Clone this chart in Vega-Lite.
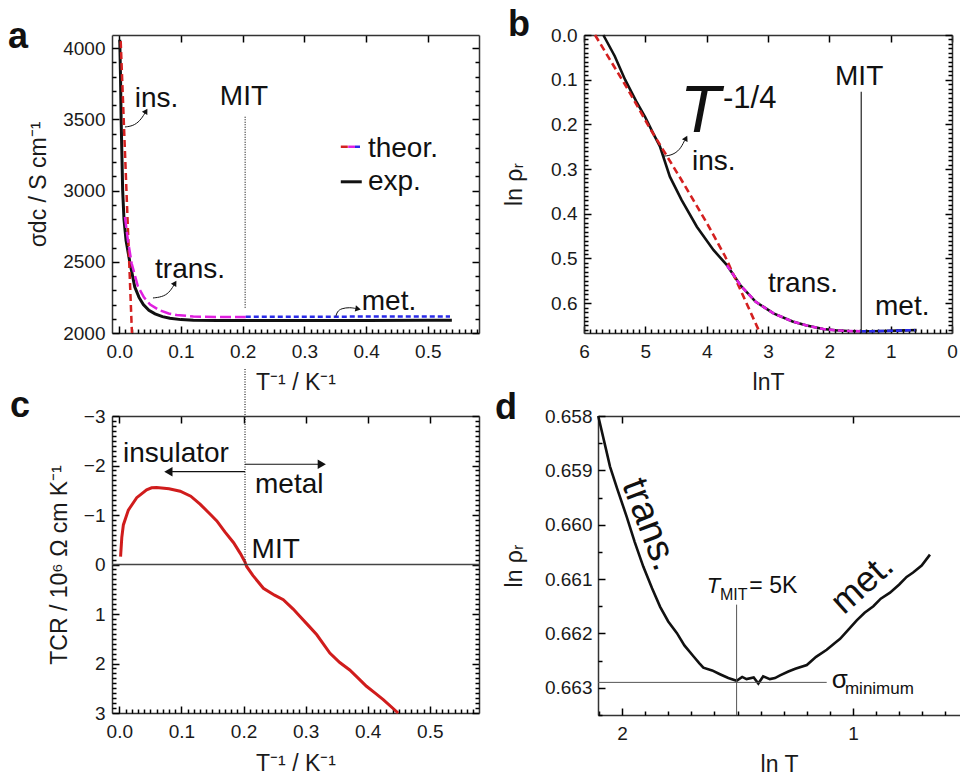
{
  "$schema": "https://vega.github.io/schema/vega-lite/v6.json",
  "autosize": {"type": "none"},
  "padding": {"left": 112, "top": 35, "right": 848, "bottom": 741},
  "background": "white",
  "config": {
    "font": "Liberation Sans",
    "view": {"stroke": null},
    "axis": {"labelFont": "Liberation Sans", "labelFontSize": 19, "labelColor": "#1a1a1a", "titleFont": "Liberation Sans", "titleFontSize": 23, "titleFontWeight": "normal", "titleColor": "#1a1a1a", "domainColor": "#333", "domainWidth": 1.5, "tickColor": "#000", "tickWidth": 1.5, "tickOpacity": 1, "grid": false, "labelFlush": false, "labelOverlap": false},
    "text": {"font": "Liberation Sans", "color": "#111"}
  },
  "columns": 2,
  "align": "each",
  "bounds": "flush",
  "spacing": {"row": 83, "column": 105},
  "concat": [
    {
      "width": 367, "height": 298,
      "data": {"values": [
        {"s":"exp","g":"exp","x":0.0008,"y":4060},{"s":"exp","g":"exp","x":0.002,"y":3800},{"s":"exp","g":"exp","x":0.003,"y":3500},{"s":"exp","g":"exp","x":0.0045,"y":3200},{"s":"exp","g":"exp","x":0.0055,"y":3000},{"s":"exp","g":"exp","x":0.0076,"y":2800},{"s":"exp","g":"exp","x":0.011,"y":2650},{"s":"exp","g":"exp","x":0.017,"y":2500},{"s":"exp","g":"exp","x":0.025,"y":2325},{"s":"exp","g":"exp","x":0.032,"y":2250},{"s":"exp","g":"exp","x":0.039,"y":2200},{"s":"exp","g":"exp","x":0.048,"y":2160},{"s":"exp","g":"exp","x":0.058,"y":2135},{"s":"exp","g":"exp","x":0.07,"y":2115},{"s":"exp","g":"exp","x":0.082,"y":2103},{"s":"exp","g":"exp","x":0.1,"y":2094},{"s":"exp","g":"exp","x":0.12,"y":2089},{"s":"exp","g":"exp","x":0.16,"y":2087},{"s":"exp","g":"exp","x":0.2,"y":2087},{"s":"exp","g":"exp","x":0.3,"y":2087},{"s":"exp","g":"exp","x":0.4,"y":2088},{"s":"exp","g":"exp","x":0.5,"y":2089},{"s":"exp","g":"exp","x":0.539,"y":2089},
        {"s":"exp","g":"legexp","x":0.359,"y":3062},{"s":"exp","g":"legexp","x":0.393,"y":3062},
        {"s":"ins","g":"ins","x":0.0023,"y":4050},{"s":"ins","g":"ins","x":0.0205,"y":2000},
        {"s":"ins","g":"legins","x":0.359,"y":3308},{"s":"ins","g":"legins","x":0.371,"y":3308},
        {"s":"trans","g":"trans","x":0.0092,"y":2815},{"s":"trans","g":"trans","x":0.014,"y":2650},{"s":"trans","g":"trans","x":0.02,"y":2490},{"s":"trans","g":"trans","x":0.03,"y":2330},{"s":"trans","g":"trans","x":0.04,"y":2250},{"s":"trans","g":"trans","x":0.05,"y":2200},{"s":"trans","g":"trans","x":0.065,"y":2160},{"s":"trans","g":"trans","x":0.08,"y":2137},{"s":"trans","g":"trans","x":0.093,"y":2126},{"s":"trans","g":"trans","x":0.12,"y":2116},{"s":"trans","g":"trans","x":0.16,"y":2112},{"s":"trans","g":"trans","x":0.205,"y":2112},
        {"s":"trans","g":"legtrans","x":0.371,"y":3308},{"s":"trans","g":"legtrans","x":0.382,"y":3308},
        {"s":"met","g":"met","x":0.205,"y":2114},{"s":"met","g":"met","x":0.536,"y":2116},
        {"s":"met","g":"legmet","x":0.382,"y":3308},{"s":"met","g":"legmet","x":0.393,"y":3308},
        {"s":"mit","x":0.204,"y":3519,"y2":2173},
        {"s":"arr","g":"a1","x":0.0092,"y":3447},{"s":"arr","g":"a1","x":0.0222,"y":3454},{"s":"arr","g":"a1","x":0.0335,"y":3489},{"s":"arr","g":"a1","x":0.0417,"y":3545},
        {"s":"arr","g":"a2","x":0.0546,"y":2246},{"s":"arr","g":"a2","x":0.0692,"y":2253},{"s":"arr","g":"a2","x":0.0806,"y":2281},{"s":"arr","g":"a2","x":0.0887,"y":2337},
        {"s":"arr","g":"a3","x":0.351,"y":2116},{"s":"arr","g":"a3","x":0.353,"y":2150},{"s":"arr","g":"a3","x":0.36,"y":2173},{"s":"arr","g":"a3","x":0.374,"y":2180},{"s":"arr","g":"a3","x":0.383,"y":2172},
        {"s":"tip","x":0.0433,"y":3559},{"s":"tip","x":0.0903,"y":2351},
        {"s":"tipr","x":0.387,"y":2169},
        {"s":"txt","t":"ins.","x":0.025,"y":3587},{"s":"txt","t":"MIT","x":0.163,"y":3601},{"s":"txt","t":"trans.","x":0.058,"y":2386},{"s":"txt","t":"met.","x":0.393,"y":2161},{"s":"txt","t":"theor.","x":0.403,"y":3236},{"s":"txt","t":"exp.","x":0.403,"y":3004},
        {"s":"let","t":"a","x":-0.1804,"y":4001}
      ]},
      "resolve": {"axis": {"x": "independent", "y": "independent"}},
      "layer": [
        {"transform": [{"filter": "datum.s === 'exp'"}], "mark": {"type": "line", "color": "#111", "strokeWidth": 3},
         "encoding": {
           "x": {"field": "x", "type": "quantitative", "scale": {"domain": [-0.0118, 0.583], "nice": false, "zero": false},
                 "axis": {"orient": "bottom", "values": [0, 0.1, 0.2, 0.3, 0.4, 0.5], "format": ".1f", "ticks": false, "labelPadding": 9, "title": "T⁻¹ / K⁻¹", "titlePadding": 10}},
           "y": {"field": "y", "type": "quantitative", "scale": {"domain": [2000, 4093], "nice": false, "zero": false},
                 "axis": {"orient": "left", "values": [2000, 2500, 3000, 3500, 4000], "format": "d", "ticks": false, "labelPadding": 7, "title": "σdc / S cm⁻¹", "titlePadding": 12}},
           "detail": {"field": "g"}}},
        {"transform": [{"filter": "datum.s === 'ins'"}], "mark": {"type": "line", "color": "#d42020", "strokeWidth": 2.5, "strokeDash": [7, 4]},
         "encoding": {
           "x": {"field": "x", "type": "quantitative", "axis": {"orient": "top", "offset": -298, "values": [0, 0.1, 0.2, 0.3, 0.4, 0.5], "labels": false, "domain": false, "ticks": true, "tickSize": 7, "title": null}},
           "y": {"field": "y", "type": "quantitative", "axis": {"orient": "right", "offset": -367, "values": [2000, 2500, 3000, 3500, 4000], "labels": false, "domain": false, "ticks": true, "tickSize": 7, "title": null}},
           "detail": {"field": "g"}}},
        {"transform": [{"filter": "datum.s === 'trans'"}], "mark": {"type": "line", "color": "#e020e0", "strokeWidth": 2.5, "strokeDash": [11, 4]},
         "encoding": {
           "x": {"field": "x", "type": "quantitative", "axis": {"orient": "top", "offset": -298, "values": [0.01,0.02,0.03,0.04,0.05,0.06,0.07,0.08,0.09,0.11,0.12,0.13,0.14,0.15,0.16,0.17,0.18,0.19,0.21,0.22,0.23,0.24,0.25,0.26,0.27,0.28,0.29,0.31,0.32,0.33,0.34,0.35,0.36,0.37,0.38,0.39,0.41,0.42,0.43,0.44,0.45,0.46,0.47,0.48,0.49,0.51,0.52,0.53,0.54,0.55,0.56,0.57,0.58], "labels": false, "domain": false, "ticks": true, "tickSize": 4, "title": null}},
           "y": {"field": "y", "type": "quantitative", "axis": {"orient": "right", "offset": -367, "values": [2100,2200,2300,2400,2600,2700,2800,2900,3100,3200,3300,3400,3600,3700,3800,3900], "labels": false, "domain": false, "ticks": true, "tickSize": 4, "title": null}},
           "detail": {"field": "g"}}},
        {"transform": [{"filter": "datum.s === 'met'"}], "mark": {"type": "line", "color": "#2a2ae8", "strokeWidth": 2.5, "strokeDash": [5, 3]},
         "encoding": {
           "x": {"field": "x", "type": "quantitative", "axis": {"orient": "bottom", "offset": -298, "values": [0, 0.1, 0.2, 0.3, 0.4, 0.5], "labels": false, "domain": true, "ticks": true, "tickSize": 7, "title": null}},
           "y": {"field": "y", "type": "quantitative", "axis": {"orient": "left", "offset": -367, "values": [2000, 2500, 3000, 3500, 4000], "labels": false, "domain": true, "ticks": true, "tickSize": 7, "title": null}},
           "detail": {"field": "g"}}},
        {"transform": [{"filter": "datum.s === 'mit'"}], "mark": {"type": "rule", "color": "#222", "strokeWidth": 1.2, "strokeDash": [1, 1.5]},
         "encoding": {"x": {"field": "x", "type": "quantitative", "axis": null},
           "y": {"field": "y", "type": "quantitative", "axis": {"orient": "left", "offset": -367, "values": [2100,2200,2300,2400,2600,2700,2800,2900,3100,3200,3300,3400,3600,3700,3800,3900], "labels": false, "domain": false, "ticks": true, "tickSize": 4, "title": null}},
           "y2": {"field": "y2"}}},
        {"transform": [{"filter": "datum.s === 'arr'"}], "mark": {"type": "line", "color": "#111", "strokeWidth": 1, "interpolate": "basis"},
         "encoding": {"x": {"field": "x", "type": "quantitative", "axis": null}, "y": {"field": "y", "type": "quantitative", "axis": null}, "detail": {"field": "g"}}},
        {"transform": [{"filter": "datum.s === 'tip'"}], "mark": {"type": "point", "shape": "triangle-up", "angle": 31, "filled": true, "size": 40, "color": "#111", "opacity": 1},
         "encoding": {"x": {"field": "x", "type": "quantitative", "axis": null}, "y": {"field": "y", "type": "quantitative", "axis": null}}},
        {"transform": [{"filter": "datum.s === 'tipr'"}], "mark": {"type": "point", "shape": "triangle-right", "angle": 10, "filled": true, "size": 40, "color": "#111", "opacity": 1},
         "encoding": {"x": {"field": "x", "type": "quantitative", "axis": null}, "y": {"field": "y", "type": "quantitative", "axis": null}}},
        {"transform": [{"filter": "datum.s === 'txt'"}], "mark": {"type": "text", "align": "left", "baseline": "alphabetic", "fontSize": 28},
         "encoding": {"x": {"field": "x", "type": "quantitative", "axis": null}, "y": {"field": "y", "type": "quantitative", "axis": null}, "text": {"field": "t"}}},
        {"transform": [{"filter": "datum.s === 'let'"}], "mark": {"type": "text", "align": "left", "baseline": "alphabetic", "fontSize": 36, "fontWeight": "bold"},
         "encoding": {"x": {"field": "x", "type": "quantitative", "axis": null}, "y": {"field": "y", "type": "quantitative", "axis": null}, "text": {"field": "t"}}}
      ]
    },
    {
      "width": 368, "height": 298,
      "data": {"values": [
        {"s":"exp","x":5.685,"y":0},{"s":"exp","x":5.5,"y":0.047},{"s":"exp","x":5.33,"y":0.1},{"s":"exp","x":5.15,"y":0.148},{"s":"exp","x":5.005,"y":0.183},{"s":"exp","x":4.88,"y":0.218},{"s":"exp","x":4.76,"y":0.25},{"s":"exp","x":4.6,"y":0.317},{"s":"exp","x":4.41,"y":0.369},{"s":"exp","x":4.16,"y":0.429},{"s":"exp","x":3.89,"y":0.481},{"s":"exp","x":3.67,"y":0.515},{"s":"exp","x":3.45,"y":0.56},{"s":"exp","x":3.2,"y":0.597},{"s":"exp","x":2.91,"y":0.623},{"s":"exp","x":2.6,"y":0.641},{"s":"exp","x":2.37,"y":0.65},{"s":"exp","x":2.1,"y":0.658},{"s":"exp","x":1.9,"y":0.6607},{"s":"exp","x":1.7,"y":0.6624},{"s":"exp","x":1.5,"y":0.66285},{"s":"exp","x":1.3,"y":0.6628},{"s":"exp","x":1.1,"y":0.6623},{"s":"exp","x":0.9,"y":0.6615},{"s":"exp","x":0.7,"y":0.6608},{"s":"exp","x":0.577,"y":0.6603},
        {"s":"ins","x":5.82,"y":0},{"s":"ins","x":5.3,"y":0.118},{"s":"ins","x":4.92,"y":0.21},{"s":"ins","x":4.43,"y":0.32},{"s":"ins","x":4.0,"y":0.42},{"s":"ins","x":3.7,"y":0.495},{"s":"ins","x":3.45,"y":0.57},{"s":"ins","x":3.13,"y":0.667},
        {"s":"trans","x":3.67,"y":0.515},{"s":"trans","x":3.45,"y":0.56},{"s":"trans","x":3.2,"y":0.597},{"s":"trans","x":2.91,"y":0.623},{"s":"trans","x":2.6,"y":0.641},{"s":"trans","x":2.37,"y":0.65},{"s":"trans","x":2.1,"y":0.658},{"s":"trans","x":1.9,"y":0.6607},{"s":"trans","x":1.7,"y":0.6624},{"s":"trans","x":1.5,"y":0.66285},
        {"s":"met","x":1.5,"y":0.66285},{"s":"met","x":1.3,"y":0.6628},{"s":"met","x":1.1,"y":0.6623},{"s":"met","x":0.9,"y":0.6615},{"s":"met","x":0.7,"y":0.6608},{"s":"met","x":0.6,"y":0.6604},
        {"s":"mit","x":1.48,"y":0.127,"y2":0.6668},
        {"s":"arr","x":4.696,"y":0.271},{"s":"arr","x":4.565,"y":0.269},{"s":"arr","x":4.435,"y":0.257},{"s":"arr","x":4.36,"y":0.236},
        {"s":"tip","x":4.337,"y":0.231},
        {"s":"txt","t":"MIT","x":1.907,"y":0.112},{"s":"txt","t":"ins.","x":4.24,"y":0.302},{"s":"txt","t":"trans.","x":3.0,"y":0.575},{"s":"txt","t":"met.","x":1.255,"y":0.627},
        {"s":"bigT","t":"T","x":4.435,"y":0.2165},
        {"s":"sup","t":"-1/4","x":3.733,"y":0.163},
        {"s":"let","t":"b","x":7.239,"y":0.0022}
      ]},
      "resolve": {"axis": {"x": "independent", "y": "independent"}},
      "layer": [
        {"transform": [{"filter": "datum.s === 'exp'"}], "mark": {"type": "line", "color": "#111", "strokeWidth": 2.6},
         "encoding": {
           "x": {"field": "x", "type": "quantitative", "scale": {"domain": [6, 0], "nice": false, "zero": false},
                 "axis": {"orient": "bottom", "values": [6, 5, 4, 3, 2, 1, 0], "format": "d", "ticks": false, "labelPadding": 9, "title": "lnT", "titlePadding": 10}},
           "y": {"field": "y", "type": "quantitative", "scale": {"domain": [0.6668, 0], "nice": false, "zero": false},
                 "axis": {"orient": "left", "values": [0, 0.1, 0.2, 0.3, 0.4, 0.5, 0.6], "format": ".1f", "ticks": false, "labelPadding": 7, "title": "ln ρᵣ", "titlePadding": 24}}}},
        {"transform": [{"filter": "datum.s === 'ins'"}], "mark": {"type": "line", "color": "#d42020", "strokeWidth": 2.6, "strokeDash": [7, 4]},
         "encoding": {
           "x": {"field": "x", "type": "quantitative", "axis": {"orient": "top", "offset": -298, "values": [6, 5, 4, 3, 2, 1, 0], "labels": false, "domain": false, "ticks": true, "tickSize": 7, "title": null}},
           "y": {"field": "y", "type": "quantitative", "axis": {"orient": "right", "offset": -368, "values": [0, 0.1, 0.2, 0.3, 0.4, 0.5, 0.6], "labels": false, "domain": false, "ticks": true, "tickSize": 7, "title": null}}}},
        {"transform": [{"filter": "datum.s === 'trans'"}], "mark": {"type": "line", "color": "#e020e0", "strokeWidth": 2.6, "strokeDash": [6, 3]},
         "encoding": {
           "x": {"field": "x", "type": "quantitative", "axis": {"orient": "top", "offset": -298, "values": [0.1,0.2,0.3,0.4,0.5,0.6,0.7,0.8,0.9,1.1,1.2,1.3,1.4,1.5,1.6,1.7,1.8,1.9,2.1,2.2,2.3,2.4,2.5,2.6,2.7,2.8,2.9,3.1,3.2,3.3,3.4,3.5,3.6,3.7,3.8,3.9,4.1,4.2,4.3,4.4,4.5,4.6,4.7,4.8,4.9,5.1,5.2,5.3,5.4,5.5,5.6,5.7,5.8,5.9], "labels": false, "domain": false, "ticks": true, "tickSize": 4, "title": null}},
           "y": {"field": "y", "type": "quantitative", "axis": {"orient": "right", "offset": -368, "values": [0.01,0.02,0.03,0.04,0.05,0.06,0.07,0.08,0.09,0.11,0.12,0.13,0.14,0.15,0.16,0.17,0.18,0.19,0.21,0.22,0.23,0.24,0.25,0.26,0.27,0.28,0.29,0.31,0.32,0.33,0.34,0.35,0.36,0.37,0.38,0.39,0.41,0.42,0.43,0.44,0.45,0.46,0.47,0.48,0.49,0.51,0.52,0.53,0.54,0.55,0.56,0.57,0.58,0.59,0.61,0.62,0.63,0.64,0.65,0.66], "labels": false, "domain": false, "ticks": true, "tickSize": 4, "title": null}}}},
        {"transform": [{"filter": "datum.s === 'met'"}], "mark": {"type": "line", "color": "#2a2ae8", "strokeWidth": 2.6, "strokeDash": [6, 3]},
         "encoding": {
           "x": {"field": "x", "type": "quantitative", "axis": {"orient": "bottom", "offset": -298, "values": [6, 5, 4, 3, 2, 1, 0], "labels": false, "domain": true, "ticks": true, "tickSize": 7, "title": null}},
           "y": {"field": "y", "type": "quantitative", "axis": {"orient": "left", "offset": -368, "values": [0, 0.1, 0.2, 0.3, 0.4, 0.5, 0.6], "labels": false, "domain": true, "ticks": true, "tickSize": 7, "title": null}}}},
        {"transform": [{"filter": "datum.s === 'mit'"}], "mark": {"type": "rule", "color": "#222", "strokeWidth": 1.2},
         "encoding": {"x": {"field": "x", "type": "quantitative", "axis": null},
           "y": {"field": "y", "type": "quantitative", "axis": {"orient": "left", "offset": -368, "values": [0.01,0.02,0.03,0.04,0.05,0.06,0.07,0.08,0.09,0.11,0.12,0.13,0.14,0.15,0.16,0.17,0.18,0.19,0.21,0.22,0.23,0.24,0.25,0.26,0.27,0.28,0.29,0.31,0.32,0.33,0.34,0.35,0.36,0.37,0.38,0.39,0.41,0.42,0.43,0.44,0.45,0.46,0.47,0.48,0.49,0.51,0.52,0.53,0.54,0.55,0.56,0.57,0.58,0.59,0.61,0.62,0.63,0.64,0.65,0.66], "labels": false, "domain": false, "ticks": true, "tickSize": 4, "title": null}},
           "y2": {"field": "y2"}}},
        {"transform": [{"filter": "datum.s === 'arr'"}], "mark": {"type": "line", "color": "#111", "strokeWidth": 1, "interpolate": "basis"},
         "encoding": {"x": {"field": "x", "type": "quantitative", "axis": null}, "y": {"field": "y", "type": "quantitative", "axis": null}}},
        {"transform": [{"filter": "datum.s === 'tip'"}], "mark": {"type": "point", "shape": "triangle-up", "angle": 27, "filled": true, "size": 40, "color": "#111", "opacity": 1},
         "encoding": {"x": {"field": "x", "type": "quantitative", "axis": null}, "y": {"field": "y", "type": "quantitative", "axis": null}}},
        {"transform": [{"filter": "datum.s === 'txt'"}], "mark": {"type": "text", "align": "left", "baseline": "alphabetic", "fontSize": 28},
         "encoding": {"x": {"field": "x", "type": "quantitative", "axis": null}, "y": {"field": "y", "type": "quantitative", "axis": null}, "text": {"field": "t"}}},
        {"transform": [{"filter": "datum.s === 'bigT'"}], "mark": {"type": "text", "align": "left", "baseline": "alphabetic", "fontSize": 66, "fontStyle": "italic"},
         "encoding": {"x": {"field": "x", "type": "quantitative", "axis": null}, "y": {"field": "y", "type": "quantitative", "axis": null}, "text": {"field": "t"}}},
        {"transform": [{"filter": "datum.s === 'sup'"}], "mark": {"type": "text", "align": "left", "baseline": "alphabetic", "fontSize": 31},
         "encoding": {"x": {"field": "x", "type": "quantitative", "axis": null}, "y": {"field": "y", "type": "quantitative", "axis": null}, "text": {"field": "t"}}},
        {"transform": [{"filter": "datum.s === 'let'"}], "mark": {"type": "text", "align": "left", "baseline": "alphabetic", "fontSize": 36, "fontWeight": "bold"},
         "encoding": {"x": {"field": "x", "type": "quantitative", "axis": null}, "y": {"field": "y", "type": "quantitative", "axis": null}, "text": {"field": "t"}}}
      ]
    },
    {
      "width": 367, "height": 297,
      "data": {"values": [
        {"s":"tcr","x":0.002,"y":-0.16},{"s":"tcr","x":0.004,"y":-0.55},{"s":"tcr","x":0.0065,"y":-0.8},{"s":"tcr","x":0.0145,"y":-1.1},{"s":"tcr","x":0.028,"y":-1.35},{"s":"tcr","x":0.044,"y":-1.51},{"s":"tcr","x":0.052,"y":-1.55},{"s":"tcr","x":0.06,"y":-1.555},{"s":"tcr","x":0.08,"y":-1.53},{"s":"tcr","x":0.098,"y":-1.48},{"s":"tcr","x":0.115,"y":-1.38},{"s":"tcr","x":0.13,"y":-1.22},{"s":"tcr","x":0.146,"y":-1.02},{"s":"tcr","x":0.157,"y":-0.88},{"s":"tcr","x":0.17,"y":-0.66},{"s":"tcr","x":0.184,"y":-0.44},{"s":"tcr","x":0.195,"y":-0.22},{"s":"tcr","x":0.2024,"y":-0.05},{"s":"tcr","x":0.205,"y":0.04},{"s":"tcr","x":0.215,"y":0.22},{"s":"tcr","x":0.232,"y":0.48},{"s":"tcr","x":0.25,"y":0.62},{"s":"tcr","x":0.264,"y":0.71},{"s":"tcr","x":0.28,"y":0.9},{"s":"tcr","x":0.291,"y":1.05},{"s":"tcr","x":0.305,"y":1.24},{"s":"tcr","x":0.318,"y":1.42},{"s":"tcr","x":0.339,"y":1.79},{"s":"tcr","x":0.355,"y":1.98},{"s":"tcr","x":0.371,"y":2.13},{"s":"tcr","x":0.385,"y":2.3},{"s":"tcr","x":0.398,"y":2.46},{"s":"tcr","x":0.412,"y":2.6},{"s":"tcr","x":0.425,"y":2.73},{"s":"tcr","x":0.449,"y":3.0},
        {"s":"zero","x":-0.0118,"x2":0.5792,"y":0},
        {"s":"mit","x":0.2024,"y":-3.95,"y2":0},
        {"s":"arrow","x":0.2024,"x2":0.085,"y":-1.876},{"s":"arrow","x":0.2024,"x2":0.32,"y":-2.025},
        {"s":"tipl","x":0.079,"y":-1.876},
        {"s":"tipr","x":0.326,"y":-2.025},
        {"s":"txt","t":"insulator","x":0.006,"y":-2.08},{"s":"txt","t":"metal","x":0.2185,"y":-1.44},{"s":"txt","t":"MIT","x":0.213,"y":-0.14},
        {"s":"let","t":"c","x":-0.176,"y":-2.98}
      ]},
      "resolve": {"axis": {"x": "independent", "y": "independent"}},
      "layer": [
        {"transform": [{"filter": "datum.s === 'tcr'"}], "mark": {"type": "line", "color": "#d01c1c", "strokeWidth": 3},
         "encoding": {
           "x": {"field": "x", "type": "quantitative", "scale": {"domain": [-0.0118, 0.5792], "nice": false, "zero": false},
                 "axis": {"orient": "bottom", "values": [0, 0.1, 0.2, 0.3, 0.4, 0.5], "format": ".1f", "ticks": false, "labelPadding": 9, "title": "T⁻¹ / K⁻¹", "titlePadding": 11}},
           "y": {"field": "y", "type": "quantitative", "scale": {"domain": [3, -3], "nice": false, "zero": false},
                 "axis": {"orient": "left", "values": [-3, -2, -1, 0, 1, 2, 3], "format": "d", "ticks": false, "labelPadding": 7, "title": "TCR / 10⁶ Ω cm K⁻¹", "titlePadding": 12}}}},
        {"transform": [{"filter": "datum.s === 'zero'"}], "mark": {"type": "rule", "color": "#444", "strokeWidth": 1.5},
         "encoding": {
           "x": {"field": "x", "type": "quantitative", "axis": {"orient": "top", "offset": -297, "values": [0, 0.1, 0.2, 0.3, 0.4, 0.5], "labels": false, "domain": false, "ticks": true, "tickSize": 7, "title": null}},
           "x2": {"field": "x2"},
           "y": {"field": "y", "type": "quantitative", "axis": {"orient": "right", "offset": -367, "values": [-3, -2, -1, 0, 1, 2, 3], "labels": false, "domain": false, "ticks": true, "tickSize": 7, "title": null}}}},
        {"transform": [{"filter": "datum.s === 'mit'"}], "mark": {"type": "rule", "color": "#222", "strokeWidth": 1.2, "strokeDash": [1, 1.5]},
         "encoding": {
           "x": {"field": "x", "type": "quantitative", "axis": {"orient": "top", "offset": -297, "values": [0.01,0.02,0.03,0.04,0.05,0.06,0.07,0.08,0.09,0.11,0.12,0.13,0.14,0.15,0.16,0.17,0.18,0.19,0.21,0.22,0.23,0.24,0.25,0.26,0.27,0.28,0.29,0.31,0.32,0.33,0.34,0.35,0.36,0.37,0.38,0.39,0.41,0.42,0.43,0.44,0.45,0.46,0.47,0.48,0.49,0.51,0.52,0.53,0.54,0.55,0.56,0.57], "labels": false, "domain": false, "ticks": true, "tickSize": 4, "title": null}},
           "y": {"field": "y", "type": "quantitative", "axis": {"orient": "right", "offset": -367, "values": [-2.9,-2.8,-2.7,-2.6,-2.5,-2.4,-2.3,-2.2,-2.1,-1.9,-1.8,-1.7,-1.6,-1.5,-1.4,-1.3,-1.2,-1.1,-0.9,-0.8,-0.7,-0.6,-0.5,-0.4,-0.3,-0.2,-0.1,0.1,0.2,0.3,0.4,0.5,0.6,0.7,0.8,0.9,1.1,1.2,1.3,1.4,1.5,1.6,1.7,1.8,1.9,2.1,2.2,2.3,2.4,2.5,2.6,2.7,2.8,2.9], "labels": false, "domain": false, "ticks": true, "tickSize": 4, "title": null}},
           "y2": {"field": "y2"}}},
        {"transform": [{"filter": "datum.s === 'arrow'"}], "mark": {"type": "rule", "color": "#111", "strokeWidth": 1.2},
         "encoding": {
           "x": {"field": "x", "type": "quantitative", "axis": {"orient": "bottom", "offset": -297, "values": [0, 0.1, 0.2, 0.3, 0.4, 0.5], "labels": false, "domain": true, "ticks": true, "tickSize": 7, "title": null}},
           "x2": {"field": "x2"},
           "y": {"field": "y", "type": "quantitative", "axis": {"orient": "left", "offset": -367, "values": [-3, -2, -1, 0, 1, 2, 3], "labels": false, "domain": true, "ticks": true, "tickSize": 7, "title": null}}}},
        {"transform": [{"filter": "datum.s === 'tipl'"}], "mark": {"type": "point", "shape": "triangle-left", "filled": true, "size": 90, "color": "#111", "opacity": 1},
         "encoding": {"x": {"field": "x", "type": "quantitative", "axis": null},
           "y": {"field": "y", "type": "quantitative", "axis": {"orient": "left", "offset": -367, "values": [-2.9,-2.8,-2.7,-2.6,-2.5,-2.4,-2.3,-2.2,-2.1,-1.9,-1.8,-1.7,-1.6,-1.5,-1.4,-1.3,-1.2,-1.1,-0.9,-0.8,-0.7,-0.6,-0.5,-0.4,-0.3,-0.2,-0.1,0.1,0.2,0.3,0.4,0.5,0.6,0.7,0.8,0.9,1.1,1.2,1.3,1.4,1.5,1.6,1.7,1.8,1.9,2.1,2.2,2.3,2.4,2.5,2.6,2.7,2.8,2.9], "labels": false, "domain": false, "ticks": true, "tickSize": 4, "title": null}}}},
        {"transform": [{"filter": "datum.s === 'tipr'"}], "mark": {"type": "point", "shape": "triangle-right", "filled": true, "size": 90, "color": "#111", "opacity": 1},
         "encoding": {"x": {"field": "x", "type": "quantitative", "axis": null}, "y": {"field": "y", "type": "quantitative", "axis": null}}},
        {"transform": [{"filter": "datum.s === 'txt'"}], "mark": {"type": "text", "align": "left", "baseline": "alphabetic", "fontSize": 28},
         "encoding": {"x": {"field": "x", "type": "quantitative", "axis": null}, "y": {"field": "y", "type": "quantitative", "axis": null}, "text": {"field": "t"}}},
        {"transform": [{"filter": "datum.s === 'let'"}], "mark": {"type": "text", "align": "left", "baseline": "alphabetic", "fontSize": 36, "fontWeight": "bold"},
         "encoding": {"x": {"field": "x", "type": "quantitative", "axis": null}, "y": {"field": "y", "type": "quantitative", "axis": null}, "text": {"field": "t"}}}
      ]
    },
    {
      "width": 376, "height": 299,
      "data": {"values": [
        {"s":"rho","x":2.103,"y":0.658},{"s":"rho","x":2.07,"y":0.6586},{"s":"rho","x":2.052,"y":0.65893},{"s":"rho","x":2.02,"y":0.65935},{"s":"rho","x":1.98,"y":0.65985},{"s":"rho","x":1.945,"y":0.66032},{"s":"rho","x":1.908,"y":0.66077},{"s":"rho","x":1.87,"y":0.66117},{"s":"rho","x":1.835,"y":0.66151},{"s":"rho","x":1.8,"y":0.66178},{"s":"rho","x":1.763,"y":0.66199},{"s":"rho","x":1.73,"y":0.66222},{"s":"rho","x":1.691,"y":0.66242},{"s":"rho","x":1.665,"y":0.66255},{"s":"rho","x":1.648,"y":0.66263},{"s":"rho","x":1.61,"y":0.66268},{"s":"rho","x":1.576,"y":0.66275},{"s":"rho","x":1.54,"y":0.66282},{"s":"rho","x":1.504,"y":0.66287},{"s":"rho","x":1.48,"y":0.6628},{"s":"rho","x":1.461,"y":0.66284},{"s":"rho","x":1.43,"y":0.66281},{"s":"rho","x":1.41,"y":0.66292},{"s":"rho","x":1.389,"y":0.66279},{"s":"rho","x":1.36,"y":0.66284},{"s":"rho","x":1.338,"y":0.66282},{"s":"rho","x":1.316,"y":0.66277},{"s":"rho","x":1.28,"y":0.6627},{"s":"rho","x":1.25,"y":0.66265},{"s":"rho","x":1.2,"y":0.66258},{"s":"rho","x":1.16,"y":0.66243},{"s":"rho","x":1.114,"y":0.6623},{"s":"rho","x":1.08,"y":0.66218},{"s":"rho","x":1.056,"y":0.6621},{"s":"rho","x":1.02,"y":0.66193},{"s":"rho","x":0.984,"y":0.66176},{"s":"rho","x":0.95,"y":0.66162},{"s":"rho","x":0.912,"y":0.6615},{"s":"rho","x":0.88,"y":0.66136},{"s":"rho","x":0.84,"y":0.66125},{"s":"rho","x":0.8,"y":0.6611},{"s":"rho","x":0.768,"y":0.66096},{"s":"rho","x":0.74,"y":0.66088},{"s":"rho","x":0.703,"y":0.66075},{"s":"rho","x":0.667,"y":0.66055},
        {"s":"hline","x":2.104,"x2":1.114,"y":0.6629},
        {"s":"vline","x":1.504,"y":0.66147,"y2":0.6635},
        {"s":"tit","t":"T","x":1.633,"y":0.66126},
        {"s":"sub","t":"MIT","x":1.576,"y":0.66138},
        {"s":"eq","t":"= 5K","x":1.449,"y":0.66126},
        {"s":"sig","t":"σ","x":1.092,"y":0.663},
        {"s":"min","t":"minimum","x":1.035,"y":0.66311},
        {"s":"rtrans","t":"trans.","x":1.883,"y":0.66},
        {"s":"rmet","t":"met.","x":0.96,"y":0.66109},
        {"s":"let","t":"d","x":2.55,"y":0.65806}
      ]},
      "resolve": {"axis": {"x": "independent", "y": "independent"}},
      "layer": [
        {"transform": [{"filter": "datum.s === 'rho'"}], "mark": {"type": "line", "color": "#111", "strokeWidth": 2.6},
         "encoding": {
           "x": {"field": "x", "type": "quantitative", "scale": {"domain": [2.104, 0.537], "range": [14, 376], "nice": false, "zero": false},
                 "axis": {"orient": "bottom", "values": [2, 1], "format": "d", "ticks": false, "labelPadding": 9, "title": "ln T", "titlePadding": 10}},
           "y": {"field": "y", "type": "quantitative", "scale": {"domain": [0.6635, 0.658], "nice": false, "zero": false},
                 "axis": {"orient": "left", "offset": -14, "values": [0.658, 0.659, 0.66, 0.661, 0.662, 0.663], "format": ".3f", "ticks": false, "labelPadding": 6, "title": "ln ρᵣ", "titlePadding": 18}}}},
        {"transform": [{"filter": "datum.s === 'hline'"}], "mark": {"type": "rule", "color": "#555", "strokeWidth": 1},
         "encoding": {
           "x": {"field": "x", "type": "quantitative", "axis": {"orient": "top", "offset": -299, "values": [2, 1], "labels": false, "domain": false, "ticks": true, "tickSize": 7, "title": null}},
           "x2": {"field": "x2"},
           "y": {"field": "y", "type": "quantitative", "axis": {"orient": "right", "offset": -362, "values": [0.658, 0.659, 0.66, 0.661, 0.662, 0.663], "labels": false, "domain": false, "ticks": true, "tickSize": 7, "title": null}}}},
        {"transform": [{"filter": "datum.s === 'vline'"}], "mark": {"type": "rule", "color": "#555", "strokeWidth": 1},
         "encoding": {
           "x": {"field": "x", "type": "quantitative", "axis": {"orient": "top", "offset": -299, "values": [0.6,0.7,0.8,0.9,1.1,1.2,1.3,1.4,1.5,1.6,1.7,1.8,1.9,2.1], "labels": false, "domain": false, "ticks": true, "tickSize": 4, "title": null}},
           "y": {"field": "y", "type": "quantitative", "axis": {"orient": "right", "offset": -362, "values": [0.6585,0.6595,0.6605,0.6615,0.6625,0.6635], "labels": false, "domain": false, "ticks": true, "tickSize": 4, "title": null}},
           "y2": {"field": "y2"}}},
        {"transform": [{"filter": "datum.s === 'tit'"}], "mark": {"type": "text", "align": "left", "baseline": "alphabetic", "fontSize": 22, "fontStyle": "italic"},
         "encoding": {"x": {"field": "x", "type": "quantitative", "axis": {"orient": "bottom", "offset": -299, "values": [2, 1], "labels": false, "domain": true, "ticks": true, "tickSize": 7, "title": null}}, "y": {"field": "y", "type": "quantitative", "axis": null}, "text": {"field": "t"}}},
        {"transform": [{"filter": "datum.s === 'sub'"}], "mark": {"type": "text", "align": "left", "baseline": "alphabetic", "fontSize": 16},
         "encoding": {"x": {"field": "x", "type": "quantitative", "axis": null}, "y": {"field": "y", "type": "quantitative", "axis": null}, "text": {"field": "t"}}},
        {"transform": [{"filter": "datum.s === 'eq'"}], "mark": {"type": "text", "align": "left", "baseline": "alphabetic", "fontSize": 23},
         "encoding": {"x": {"field": "x", "type": "quantitative", "axis": null}, "y": {"field": "y", "type": "quantitative", "axis": null}, "text": {"field": "t"}}},
        {"transform": [{"filter": "datum.s === 'sig'"}], "mark": {"type": "text", "align": "left", "baseline": "alphabetic", "fontSize": 26},
         "encoding": {"x": {"field": "x", "type": "quantitative", "axis": null}, "y": {"field": "y", "type": "quantitative", "axis": null}, "text": {"field": "t"}}},
        {"transform": [{"filter": "datum.s === 'min'"}], "mark": {"type": "text", "align": "left", "baseline": "alphabetic", "fontSize": 17},
         "encoding": {"x": {"field": "x", "type": "quantitative", "axis": null}, "y": {"field": "y", "type": "quantitative", "axis": null}, "text": {"field": "t"}}},
        {"transform": [{"filter": "datum.s === 'rtrans'"}], "mark": {"type": "text", "align": "center", "baseline": "middle", "fontSize": 38, "angle": 69},
         "encoding": {"x": {"field": "x", "type": "quantitative", "axis": null}, "y": {"field": "y", "type": "quantitative", "axis": null}, "text": {"field": "t"}}},
        {"transform": [{"filter": "datum.s === 'rmet'"}], "mark": {"type": "text", "align": "center", "baseline": "middle", "fontSize": 36, "angle": -42},
         "encoding": {"x": {"field": "x", "type": "quantitative", "axis": null}, "y": {"field": "y", "type": "quantitative", "axis": null}, "text": {"field": "t"}}},
        {"transform": [{"filter": "datum.s === 'let'"}], "mark": {"type": "text", "align": "left", "baseline": "alphabetic", "fontSize": 36, "fontWeight": "bold"},
         "encoding": {"x": {"field": "x", "type": "quantitative", "axis": null}, "y": {"field": "y", "type": "quantitative", "axis": null}, "text": {"field": "t"}}}
      ]
    }
  ]
}
